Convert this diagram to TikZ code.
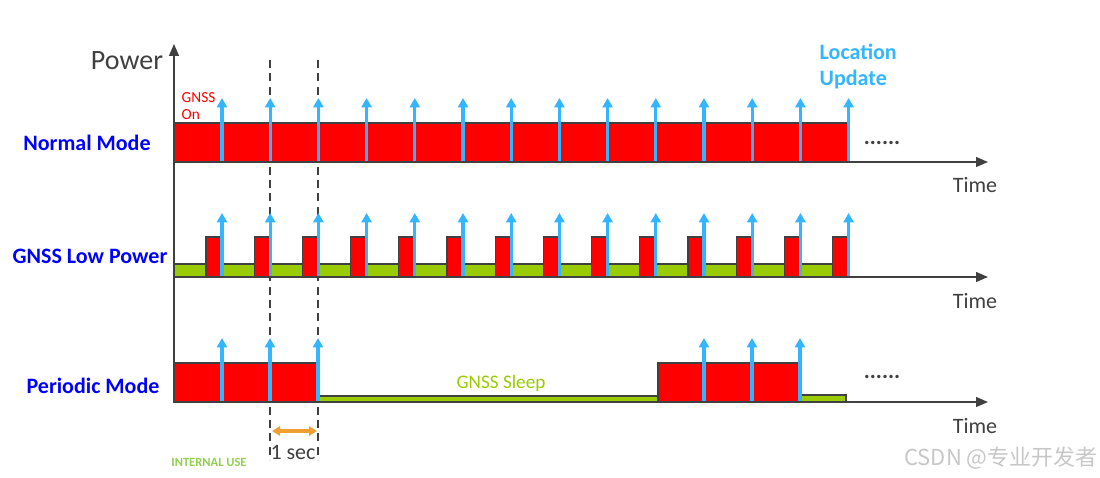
\documentclass[tikz,border=0pt]{standalone}
\usepackage{fontspec}
\setmainfont{Carlito}
\newfontfamily\cjk{Noto Sans CJK SC}
\usetikzlibrary{arrows.meta}

\definecolor{gnssred}{RGB}{255,0,0}
\definecolor{sleepgreen}{RGB}{153,204,0}
\definecolor{usegreen}{RGB}{146,208,80}
\definecolor{fixblue}{RGB}{51,181,255}
\definecolor{modeblue}{RGB}{0,0,255}
\definecolor{axisgray}{RGB}{64,64,64}
\definecolor{secorange}{RGB}{240,160,50}

\tikzset{
  axis/.style={axisgray, line width=1pt, -{Triangle[width=7.5pt,length=9pt]}},
  onbox/.style={fill=gnssred, draw=axisgray, line width=0.8pt},
  sleepbox/.style={fill=sleepgreen, draw=axisgray, line width=0.8pt},
  fix/.style={fixblue, line width=2.4pt, -{Triangle[width=7.5pt,length=7pt]}},
  modelabel/.style={font=\fontsize{16.5}{18}\selectfont\bfseries, text=modeblue},
  timelabel/.style={font=\fontsize{16.5}{18}\selectfont, text=axisgray},
}

\begin{document}
\begin{tikzpicture}[x=0.75pt,y=-0.75pt]
    \useasboundingbox (0,0) rectangle (1100,478);

    % 1 sec markers
    \draw[axisgray, line width=1pt, dash pattern=on 6pt off 4pt] (270,60) -- (270,460);
    \draw[axisgray, line width=1pt, dash pattern=on 6pt off 4pt] (318,60) -- (318,460);

    % Normal mode
    \draw[onbox] (174,123) rectangle (848,162);
    \foreach \k in {0,...,13}
      \draw[fix] (222+48.2*\k,162) -- ++(0,-64);

    % GNSS low power
    \draw[sleepbox] (174,264) rectangle (848,277);
    \foreach \k in {0,...,13}{
      \draw[onbox] (206+48.2*\k,237) rectangle ++(16,40);
      \draw[fix] (222+48.2*\k,277) -- ++(0,-64);
    }

    % Periodic mode
    \draw[sleepbox] (318,396) rectangle (658,402);
    \draw[sleepbox] (800,395) rectangle (846,402);
    \draw[onbox] (174,363) rectangle (318,402);
    \draw[onbox] (658,363) rectangle (800,402);
    \foreach \x in {222,270,318,704,752,800}
      \draw[fix] (\x,402) -- ++(0,-64);

    % Draw axes
    \draw[axis] (174,402) -- (174,44);
    \foreach \y in {162,277,402}
      \draw[axis] (174,\y) -- (988,\y);

    \node[font=\fontsize{21}{24}\selectfont, text=axisgray] (power) at (127,61) {Power};
    \node[anchor=west, align=left, text=gnssred, font=\fontsize{11.5}{12.75}\selectfont] (gnsson) at (177,106) {GNSS\\On};
    \node[anchor=west, align=left, text=fixblue, font=\fontsize{16.5}{19.5}\selectfont\bfseries] (update) at (815,66) {Location\\Update};

    \node[modelabel] (normal) at (87,143) {Normal Mode};
    \node[modelabel] (lowpower) at (90,256) {GNSS Low Power};
    \node[modelabel] (periodic) at (93,386) {Periodic Mode};

    \node[timelabel] (time1) at (975,185) {Time};
    \node[timelabel] (time2) at (975,301) {Time};
    \node[timelabel] (time3) at (975,426) {Time};

    \node[font=\fontsize{17}{18}\selectfont\bfseries, text=axisgray] (more1) at (882,143) {......};
    \node[font=\fontsize{17}{18}\selectfont\bfseries, text=axisgray] (more2) at (882,377) {......};

    \node[font=\fontsize{14.4}{16}\selectfont, text=sleepgreen] (sleep) at (501,383) {GNSS Sleep};

    \draw[secorange, line width=2.4pt, {Triangle[width=7pt,length=6pt]}-{Triangle[width=7pt,length=6pt]}] (272,431) -- (317,431);
    \node[timelabel] (onesec) at (293,452) {1 sec};
    \node[font=\fontsize{9.4}{11}\selectfont\bfseries, text=usegreen] (internal) at (209,462) {INTERNAL USE};

    \node[font=\cjk\fontsize{16.5}{18}\selectfont, text=black!22] (mark) at (1001,458) {CSDN @专业开发者};
  \end{tikzpicture}
\end{document}
